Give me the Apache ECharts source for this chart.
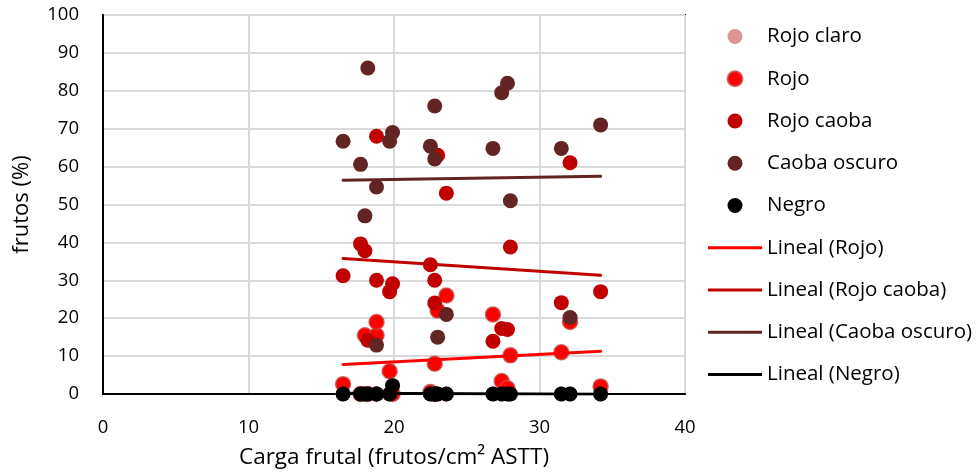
<!DOCTYPE html>
<html>
<head>
<meta charset="utf-8">
<title>Carga frutal vs color de frutos</title>
<script src="https://cdn.jsdelivr.net/npm/echarts@6/dist/echarts.min.js"></script>
<style>
  html, body { margin: 0; padding: 0; background: #fff; }
  #chart { width: 979px; height: 474px; }
</style>
</head>
<body>
<div id="chart"></div>
<script>
// Fruit load per tree (frutos/cm² ASTT) and the share of fruit in each colour class (%)
const treeX       = [16.5, 17.7, 18.0, 18.2, 18.8, 18.8, 19.7, 19.9, 22.5, 22.8, 22.8, 23.0, 23.6, 26.8, 27.4, 27.8, 28.0, 31.5, 32.1, 34.2];
const rojoClaro   = [0, 0, 0, 0, 0, 0, 0, 0, 0, 0, 0, 0, 0, 0, 0, 0, 0, 0, 0, 0];
const rojo        = [2.6, 0, 15.5, 0, 15.5, 19, 6, 0, 0.5, 0, 8, 22, 26, 21, 3.4, 1.5, 10.2, 11, 19, 2];
const rojoCaoba   = [31.2, 39.6, 37.8, 14.2, 30, 68, 27, 29.1, 34.1, 24, 30, 63, 53, 13.9, 17.3, 17, 38.8, 24.1, 61, 27];
const caobaOscuro = [66.7, 60.6, 47, 86, 54.6, 12.9, 66.7, 69, 65.4, 76, 62, 15, 21, 64.8, 79.5, 82, 51, 64.8, 20.2, 71];
const negro       = [0, 0, 0, 0, 0, 0, 0, 2.2, 0, 0, 0, 0, 0, 0, 0, 0, 0, 0, 0, 0];

const xTicks = [0, 10, 20, 30, 40];
const yTicks = [0, 10, 20, 30, 40, 50, 60, 70, 80, 90, 100];

const FONT = '"Open Sans", Lato, "Liberation Sans", sans-serif';
// Plain horizontal stroke used as the legend key of each trend line
const LINE_ICON = 'path://M0,0H54V3H0Z';

function pairs(xs, ys) { return xs.map((x, i) => [x, ys[i]]); }

// Least-squares trend line over the data's own x-range
function trend(xs, ys) {
  const n = xs.length;
  const mx = xs.reduce((a, b) => a + b, 0) / n;
  const my = ys.reduce((a, b) => a + b, 0) / n;
  let sxy = 0, sxx = 0;
  for (let i = 0; i < n; i++) { sxy += (xs[i] - mx) * (ys[i] - my); sxx += (xs[i] - mx) ** 2; }
  const b = sxy / sxx, a = my - b * mx;
  const x0 = Math.min(...xs), x1 = Math.max(...xs);
  return [[x0, a + b * x0], [x1, a + b * x1]];
}

const classes = [
  { name: 'Rojo claro',   values: rojoClaro,   color: '#D99694', trend: false },
  { name: 'Rojo',         values: rojo,        color: '#FF0000', border: 'rgba(192,80,77,0.8)', trend: true },
  { name: 'Rojo caoba',   values: rojoCaoba,   color: '#C00000', trend: true },
  { name: 'Caoba oscuro', values: caobaOscuro, color: '#632523', trend: true },
  { name: 'Negro',        values: negro,       color: '#000000', trend: true }
];

const series = [];
const legendData = [];
classes.forEach(c => {
  series.push({
    name: c.name,
    type: 'scatter',
    symbol: 'circle',
    symbolSize: 15,
    data: pairs(treeX, c.values),
    itemStyle: c.border
      ? { color: c.color, borderColor: c.border, borderWidth: 1.5, opacity: 1 }
      : { color: c.color, opacity: 1 },
    emphasis: { disabled: true },
    z: 2
  });
  legendData.push({ name: c.name });
});
classes.filter(c => c.trend).forEach(c => {
  const name = 'Lineal (' + c.name + ')';
  series.push({
    name: name,
    type: 'line',
    data: trend(treeX, c.values),
    showSymbol: false,
    symbol: 'none',
    lineStyle: { color: c.color, width: 3, cap: 'round' },
    itemStyle: { color: c.color },
    emphasis: { disabled: true },
    z: 3
  });
  legendData.push({ name: name, icon: LINE_ICON, itemStyle: { color: c.color } });
});

const chart = echarts.init(document.getElementById('chart'), null, { renderer: 'canvas' });
chart.setOption({
  animation: false,
  backgroundColor: '#ffffff',
  textStyle: { fontFamily: FONT },
  grid: {
    left: 103, right: 294, top: 15, bottom: 78,
    show: true, borderColor: '#000', borderWidth: 2, backgroundColor: 'transparent'
  },
  legend: {
    orient: 'vertical',
    left: 703,
    top: 21,
    itemWidth: 54,
    itemHeight: 15,
    itemGap: 21.25,
    symbolKeepAspect: true,
    textStyle: { fontFamily: FONT, fontSize: 20.5, color: '#000', lineHeight: 20 },
    data: legendData
  },
  xAxis: {
    type: 'value',
    min: xTicks[0], max: xTicks[xTicks.length - 1], interval: 10,
    name: 'Carga frutal (frutos/cm² ASTT)',
    nameLocation: 'middle',
    nameGap: 52,
    nameTextStyle: { fontFamily: FONT, fontSize: 22.5, color: '#000' },
    axisLine: { show: true, lineStyle: { color: '#000', width: 2 } },
    axisTick: { show: false },
    axisLabel: { fontFamily: FONT, fontSize: 18.5, color: '#000', margin: 24 },
    splitLine: { show: true, lineStyle: { color: '#D9D9D9', width: 2 } }
  },
  yAxis: {
    type: 'value',
    min: yTicks[0], max: yTicks[yTicks.length - 1], interval: 10,
    name: 'frutos (%)',
    nameLocation: 'middle',
    nameGap: 70,
    nameTextStyle: { fontFamily: FONT, fontSize: 22, color: '#000' },
    axisLine: { show: true, lineStyle: { color: '#000', width: 2 } },
    axisTick: { show: false },
    axisLabel: { fontFamily: FONT, fontSize: 18.5, color: '#000', margin: 24 },
    splitLine: { show: true, lineStyle: { color: '#D9D9D9', width: 2 } }
  },
  series: series
});
</script>
</body>
</html>
